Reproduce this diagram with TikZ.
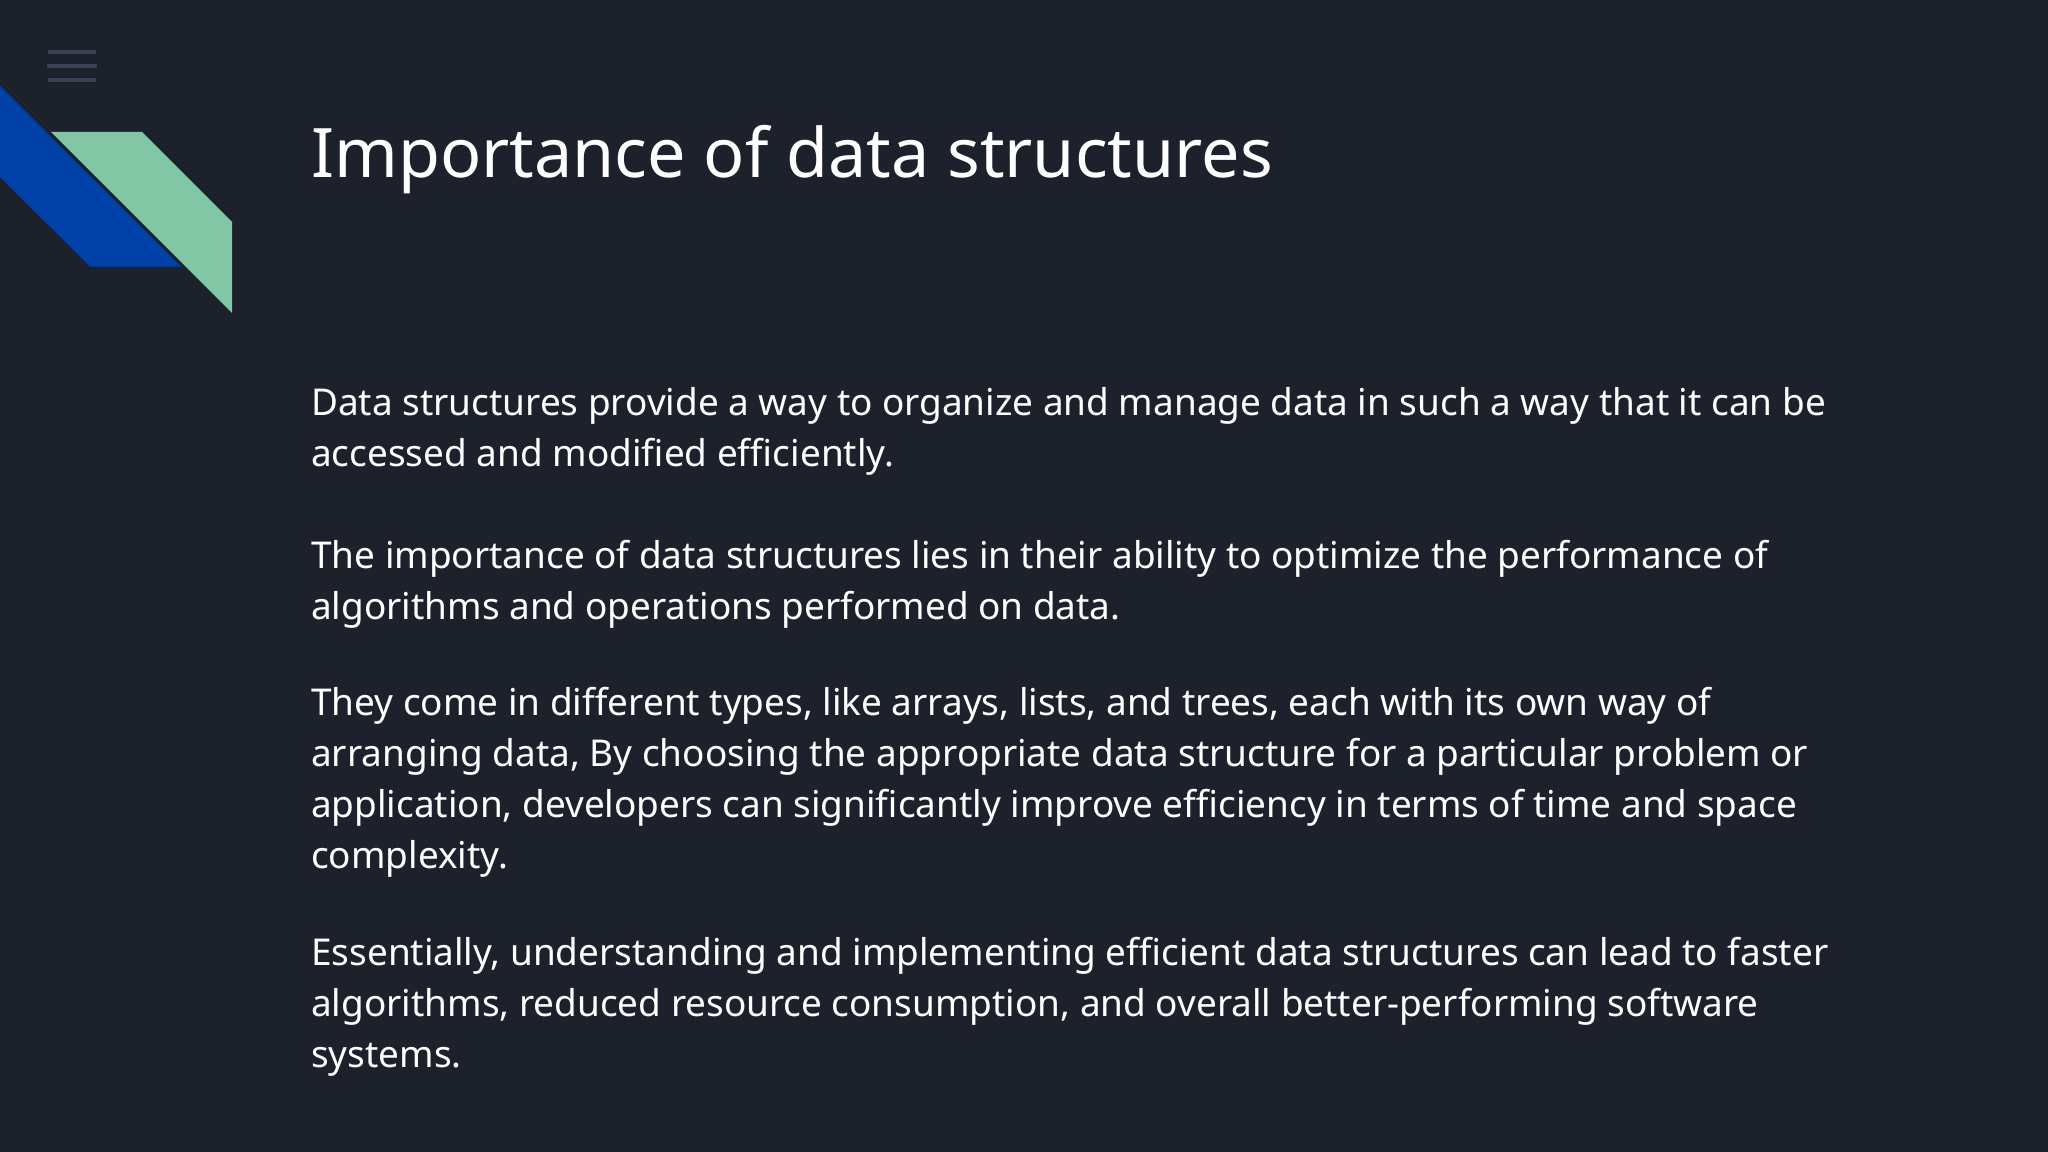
\documentclass[tikz,border=0pt]{standalone}
\usepackage{fontspec}
\setmainfont{Noto Sans}
\definecolor{bgc}{HTML}{1D212C}
\definecolor{bluec}{HTML}{0041A8}
\definecolor{greenc}{HTML}{82C7A5}
\definecolor{barc}{HTML}{3A4152}
\definecolor{textc}{HTML}{FFFFFF}
\tikzset{
  titletext/.style={anchor=base west,inner sep=0pt,text=textc,font=\fontsize{51.2pt}{60pt}\selectfont},
  bodytext/.style={anchor=base west,inner sep=0pt,text=textc,align=left,font=\fontsize{27.7pt}{38.25pt}\selectfont},
  menubar/.style={fill=barc,draw=none}
}
\begin{document}
\begin{tikzpicture}[x=0.75pt,y=-0.75pt]
\useasboundingbox (0,0) rectangle (2048,1152);
\fill[bgc] (0,0) rectangle (2048,1152);
\fill[menubar] (48,50) rectangle (96,54);
\fill[menubar] (47,64) rectangle (97,68);
\fill[menubar] (48,78) rectangle (96,82);
\fill[bluec] (0,86) -- (181,266.5) -- (90,266.5) -- (0,177) -- cycle;
\fill[greenc] (51,132) -- (142,132) -- (232,222) -- (232,313) -- cycle;
\node[titletext] (title) at (311,177) {Importance of data structures};
\node[bodytext] (p1) at (311,466.3) {Data structures provide a way to organize and manage data in such a way that it can be\\accessed and modified efficiently.};
\node[bodytext] (p2) at (311,619.3) {The importance of data structures lies in their ability to optimize the performance of\\algorithms and operations performed on data.};
\node[bodytext] (p3) at (311,868.3) {They come in different types, like arrays, lists, and trees, each with its own way of\\arranging data, By choosing the appropriate data structure for a particular problem or\\application, developers can significantly improve efficiency in terms of time and space\\complexity.};
\node[bodytext] (p4) at (311,1067) {Essentially, understanding and implementing efficient data structures can lead to faster\\algorithms, reduced resource consumption, and overall better-performing software\\systems.};
\end{tikzpicture}
\end{document}
